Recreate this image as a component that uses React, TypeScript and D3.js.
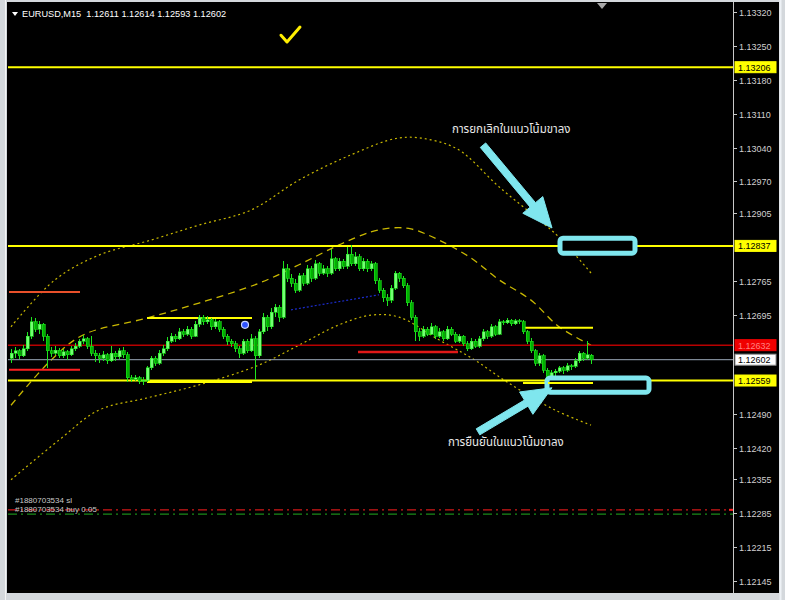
import React from 'react';
import * as d3 from 'd3';

// ---------- DATA ----------
const BASE = 1.12;
const PT = 1e-5;
const symbolHeader = 'EURUSD,M15  1.12611 1.12614 1.12593 1.12602';

// M15 candles: [open, high, low, close] in points above 1.12000
const candles: number[][] = [
  [605,625,596,615],[615,628,606,620],[620,624,603,610],[610,632,608,625],[625,660,620,650],
  [650,690,645,680],[680,688,660,665],[665,682,655,675],[675,678,640,650],[650,655,585,620],
  [620,628,608,615],[615,630,612,622],[622,626,605,610],[610,624,606,618],[618,622,602,612],
  [612,630,610,625],[625,636,620,630],[630,645,626,640],[640,652,635,645],[645,648,625,630],
  [630,650,610,615],[615,622,598,610],[610,615,595,605],[605,620,600,612],[612,616,594,600],
  [600,630,598,615],[615,620,600,608],[608,626,604,620],[620,628,606,612],[612,618,555,565],
  [565,570,556,562],[562,570,558,565],[565,568,552,558],[558,566,550,560],[560,590,555,585],
  [585,610,580,605],[605,610,590,595],[595,622,592,615],[615,632,610,625],[625,648,620,640],
  [640,658,636,650],[650,655,638,645],[645,668,642,660],[660,666,648,655],[655,672,650,665],
  [665,670,645,650],[650,682,648,675],[675,694,670,690],[690,695,674,680],[680,692,676,685],
  [685,688,664,670],[670,686,666,680],[680,684,660,665],[665,670,645,650],[650,655,632,640],
  [640,645,628,635],[635,640,618,625],[625,630,605,615],[615,645,612,640],[640,644,615,620],
  [620,655,618,645],[645,650,560,610],[610,665,605,660],[660,698,655,690],[690,694,662,670],
  [670,708,665,700],[700,716,690,710],[710,715,680,690],[690,805,686,790],[790,800,762,770],
  [770,778,752,760],[760,768,740,745],[745,782,742,775],[775,780,755,760],[760,798,756,790],
  [790,795,762,770],[770,808,766,800],[800,804,775,780],[780,798,776,790],[790,795,772,780],
  [780,830,776,810],[810,815,785,790],[790,812,786,805],[805,810,790,795],[795,835,790,820],
  [820,838,795,800],[800,825,796,815],[815,820,785,790],[790,812,786,805],[805,810,784,790],
  [790,806,785,800],[800,804,758,765],[765,770,740,745],[745,750,722,730],[730,738,712,725],
  [725,756,720,750],[750,786,746,780],[780,784,762,770],[770,775,750,755],[755,760,712,720],
  [720,725,684,690],[690,695,640,660],[660,668,640,650],[650,672,646,665],[665,670,650,655],
  [655,678,652,670],[670,674,645,650],[650,668,646,660],[660,664,640,645],[645,672,642,665],
  [665,670,650,655],[655,660,636,640],[640,656,636,650],[650,654,630,635],[635,640,620,625],
  [625,646,622,640],[640,645,626,630],[630,650,626,645],[645,665,640,660],[660,664,645,650],
  [650,676,646,670],[670,674,650,655],[655,686,652,680],[680,685,674,678],[678,688,675,683],
  [683,686,672,676],[676,686,673,682],[682,686,676,680],[680,684,655,660],[660,664,635,640],
  [640,646,615,620],[620,625,590,595],[595,615,590,610],[610,614,575,580],[580,585,550,560],
  [560,580,556,575],[575,582,568,578],[578,590,574,585],[585,588,572,580],[580,596,577,590],
  [590,594,580,588],[588,605,585,600],[600,620,596,615],[615,618,600,605],[605,640,602,612],
  [611,614,593,602],
];

// Bollinger bands: [candle index, points above 1.12000]
const upperBand = [[0,670],[11,767],[22,818],[35,849],[47,880],[60,911],[72,973],[85,1025],[97,1060],[105,1056],[112,1035],[122,959],[132,891],[137,855],[145,781]];
const middleBand = [[0,508],[10,601],[18,653],[34,688],[47,719],[62,760],[72,798],[82,839],[90,866],[95,874],[100,872],[107,849],[115,812],[122,767],[130,725],[137,670],[145,632]];
const lowerBand = [[0,354],[12,436],[22,498],[34,523],[47,550],[62,591],[72,632],[82,674],[90,694],[97,690],[107,643],[116,601],[124,556],[136,498],[145,467]];
const blueTrend = [[70,705],[92,736]];

// axis tick labels
const tickLabels = ['1.13320','1.13250','1.13180','1.13110','1.13040','1.12970','1.12905','1.12765','1.12695','1.12490','1.12420','1.12355','1.12285','1.12215','1.12145'];

// full-width horizontal levels
const levelNames = ['res1','res2','sup1','redLevel','bid'];
const levelPrices = [1.13206, 1.12837, 1.12559, 1.12632, 1.12602];

// short segments: [from index, to index, price]
const segmentNames = ['orangeL','redL','yelTopA','yelBotA','redMid','yelTopB','yelBotB'];
const segmentData = [[-0.5,17.25,1.12742],[-0.5,17.25,1.12581],[34,60.25,1.12688],[34,60.25,1.12556],[86.75,111.75,1.12618],[128,145.5,1.12668],[128,145.5,1.12554]];

// order lines
const slPrice = 1.12292;
const buyPrice = 1.12283;
const orderLabels = ['#1880703534 sl', '#1880703534 buy 0.05'];

// annotations (candle index, price)
const textTop = 'การยกเลิกในแนวโน้มขาลง';
const textBottom = 'การยืนยันในแนวโน้มขาลง';
const textTopPos = [110.25, 1.13070];
const textBottomPos = [109.25, 1.12424];
const arrowTop = [[118, 1.13045], [135.25, 1.12874]];
const arrowBottom = [[116.75, 1.12453], [135.25, 1.12544]];
const boxTop = [[137.25, 1.12853], [156, 1.12822]];
const boxBottom = [[134, 1.12564], [159.5, 1.12535]];
const checkMark = [[67.5, 1.13272], [69, 1.13258], [72.25, 1.13289]];
const blueMarker = [58.5, 1.12674];

// ---------- STYLES ----------
const W = 785, H = 600;
const PLOT_L = 8, PLOT_R = 733, AXIS_R = 779, TOP = 2, BOTTOM = 593;
const levelStyle: Record<string, { c: string; w: number }> = {
  res1: { c: '#ffff00', w: 2 }, res2: { c: '#ffff00', w: 2 }, sup1: { c: '#ffff00', w: 2 },
  redLevel: { c: '#b80000', w: 1.5 }, bid: { c: '#9aa8b8', w: 1 },
};
const segStyle: Record<string, { c: string; w: number }> = {
  orangeL: { c: '#e8502a', w: 2 }, redL: { c: '#ff2020', w: 2 }, yelTopA: { c: '#ffff00', w: 2 },
  yelBotA: { c: '#ffff00', w: 2 }, redMid: { c: '#e01818', w: 2.5 }, yelTopB: { c: '#ffff00', w: 2 },
  yelBotB: { c: '#ffff00', w: 2 },
};
const boxStyle: Record<string, { bg: string; fg: string; border: string }> = {
  res1: { bg: '#ffff00', fg: '#000', border: '#ffff00' },
  res2: { bg: '#ffff00', fg: '#000', border: '#ffff00' },
  sup1: { bg: '#ffff00', fg: '#000', border: '#ffff00' },
  redLevel: { bg: '#f00000', fg: '#ff8080', border: '#f00000' },
  bid: { bg: '#ffffff', fg: '#000', border: '#909090' },
};
const CYAN = '#7fe6ee';
const FONT = "'Liberation Sans', Arial, sans-serif";
const THAI = "'Noto Sans Thai', Tahoma, 'Loma', 'Garuda', 'DejaVu Sans', sans-serif";

function arrowPoly(x1: number, y1: number, x2: number, y2: number, sw = 7, hl = 30, hw = 26) {
  const dx = x2 - x1, dy = y2 - y1, len = Math.hypot(dx, dy);
  const ux = dx / len, uy = dy / len, px = -uy, py = ux;
  const bx = x2 - ux * hl, by = y2 - uy * hl;
  const pts = [
    [x1 + px * sw / 2, y1 + py * sw / 2],
    [bx + px * sw / 2, by + py * sw / 2],
    [bx + px * hw / 2, by + py * hw / 2],
    [x2, y2],
    [bx - px * hw / 2, by - py * hw / 2],
    [bx - px * sw / 2, by - py * sw / 2],
    [x1 - px * sw / 2, y1 - py * sw / 2],
  ];
  return pts.map((p) => p.join(',')).join(' ');
}

export default function App() {
  const y = d3.scaleLinear().domain([1.12145, 1.1332]).range([581, 12]);
  const x = d3.scaleLinear().domain([0, 145]).range([11, 591]);
  const p = (v: number) => y(BASE + v * PT);

  const bandLine = d3.line<number[]>().x((d) => x(d[0])).y((d) => p(d[1])).curve(d3.curveCatmullRom);

  const arrow = (a: number[][]) => arrowPoly(x(a[0][0]), y(a[0][1]), x(a[1][0]), y(a[1][1]));
  const box = (b: number[][]) => ({ x: x(b[0][0]), y: y(b[0][1]), w: x(b[1][0]) - x(b[0][0]), h: y(b[1][1]) - y(b[0][1]) });
  const bt = box(boxTop), bb = box(boxBottom);

  return (
    <div style={{ position: 'absolute', left: 0, top: 0, width: W, height: H }}>
      <svg width={W} height={H} style={{ display: 'block' }}>
        <rect x={0} y={0} width={W} height={H} fill="#d4d8dc" />
        <line x1={5.5} y1={0} x2={5.5} y2={H} stroke="#f4f4f4" />
        <rect x={7} y={TOP} width={AXIS_R - 7} height={BOTTOM - TOP} fill="#000" />
        <line x1={AXIS_R + 1.5} y1={0} x2={AXIS_R + 1.5} y2={H} stroke="#eef2f6" strokeWidth={2} />

        {/* bands */}
        <path d={bandLine(upperBand) || ''} fill="none" stroke="#c9b800" strokeWidth={1.2} strokeDasharray="2,3" />
        <path d={bandLine(middleBand) || ''} fill="none" stroke="#c9b800" strokeWidth={1.3} strokeDasharray="7,5" />
        <path d={bandLine(lowerBand) || ''} fill="none" stroke="#c9b800" strokeWidth={1.2} strokeDasharray="2,3" />
        <path d={bandLine(blueTrend) || ''} fill="none" stroke="#1c2ccc" strokeWidth={1.2} strokeDasharray="2,2" />

        {/* full-width levels */}
        {levelNames.map((k, i) => (
          <line key={k} x1={PLOT_L} x2={PLOT_R} y1={y(levelPrices[i])} y2={y(levelPrices[i])} stroke={levelStyle[k].c} strokeWidth={levelStyle[k].w} />
        ))}

        {/* order lines */}
        <line x1={PLOT_L} x2={PLOT_R} y1={y(slPrice)} y2={y(slPrice)} stroke="#d01818" strokeWidth={1.3} strokeDasharray="9,4,2,4" />
        <line x1={PLOT_L} x2={PLOT_R} y1={y(buyPrice)} y2={y(buyPrice)} stroke="#1a8a1a" strokeWidth={1.3} strokeDasharray="9,4,2,4" />
        <line x1={PLOT_R - 4} x2={PLOT_R} y1={y(slPrice)} y2={y(slPrice)} stroke="#ff2020" strokeWidth={2} />
        {orderLabels.map((t, i) => (
          <text key={t} x={15} y={i === 0 ? y(slPrice) - 7 : y(buyPrice) - 2} fill="#c8c8c8" fontSize={8} fontFamily={FONT}>{t}</text>
        ))}

        {/* short segments */}
        {segmentNames.map((k, i) => {
          const [a, b, pr] = segmentData[i];
          return <line key={k} x1={Math.max(PLOT_L, x(a))} x2={x(b)} y1={y(pr)} y2={y(pr)} stroke={segStyle[k].c} strokeWidth={segStyle[k].w} />;
        })}

        {/* candles */}
        <g shapeRendering="crispEdges">
          {candles.map((c, i) => {
            const [o, h, l, cl] = c;
            const cx = Math.round(x(i));
            const up = cl >= o;
            const top = Math.min(p(o), p(cl));
            const hgt = Math.max(1, Math.abs(p(o) - p(cl)));
            return (
              <g key={i}>
                <line x1={cx + 0.5} x2={cx + 0.5} y1={p(h)} y2={p(l)} stroke="#1ee61e" />
                <rect x={cx - 1} y={top} width={3} height={hgt} fill={up ? '#74ff74' : '#00b000'} stroke="#1ee61e" strokeWidth={0.6} />
              </g>
            );
          })}
        </g>

        {/* blue marker */}
        <circle cx={x(blueMarker[0])} cy={y(blueMarker[1])} r={3.5} fill="#2f52ff" stroke="#c8d4ff" strokeWidth={1.2} />

        {/* check mark */}
        <polyline
          points={checkMark.map((d) => `${x(d[0])},${y(d[1])}`).join(' ')}
          fill="none" stroke="#ffee00" strokeWidth={3} strokeLinecap="round" strokeLinejoin="round"
        />

        {/* axis */}
        <line x1={PLOT_R + 0.5} x2={PLOT_R + 0.5} y1={TOP} y2={BOTTOM} stroke="#c8c8c8" />
        {tickLabels.map((t) => {
          const ty = Math.round(y(+t)) + 0.5;
          return (
            <g key={t}>
              <line x1={PLOT_R} x2={PLOT_R + 4} y1={ty} y2={ty} stroke="#c8c8c8" />
              <text x={739} y={ty + 3.5} fill="#d0d0d0" fontSize={9} fontFamily={FONT}>{t}</text>
            </g>
          );
        })}
        {levelNames.map((k, i) => {
          const ly = y(levelPrices[i]);
          const s = boxStyle[k];
          return (
            <g key={'b' + k}>
              <rect x={735} y={ly - 5.5} width={41} height={11} fill={s.bg} stroke={s.border} strokeWidth={1} />
              <text x={738} y={ly + 3.5} fill={s.fg} fontSize={9} fontFamily={FONT}>{levelPrices[i].toFixed(5)}</text>
            </g>
          );
        })}

        {/* annotation boxes */}
        <rect x={bt.x} y={bt.y} width={bt.w} height={bt.h} rx={3} fill="#000" stroke={CYAN} strokeWidth={5} />
        <rect x={bb.x} y={bb.y} width={bb.w} height={bb.h} rx={3} fill="#000" stroke={CYAN} strokeWidth={5} />
        <line x1={x(segmentData[6][0]) + 25} x2={x(segmentData[6][1])} y1={y(segmentData[6][2])} y2={y(segmentData[6][2])} stroke="#ffff00" strokeWidth={2} />

        {/* arrows */}
        <polygon points={arrow(arrowTop)} fill={CYAN} stroke={CYAN} strokeWidth={1} strokeLinejoin="round" />
        <polygon points={arrow(arrowBottom)} fill={CYAN} stroke={CYAN} strokeWidth={1} strokeLinejoin="round" />

        {/* annotation texts */}
        <text x={x(textTopPos[0])} y={y(textTopPos[1])} fill="#e8e8e8" fontSize={11.5} fontFamily={THAI}>{textTop}</text>
        <text x={x(textBottomPos[0])} y={y(textBottomPos[1])} fill="#e8e8e8" fontSize={11.5} fontFamily={THAI}>{textBottom}</text>

        {/* header */}
        <path d="M12,12 L18,12 L15,16 Z" fill="#ffffff" />
        <text x={22} y={17} fill="#ffffff" fontSize={9.2} fontFamily={FONT} style={{ whiteSpace: 'pre' }}>{symbolHeader}</text>
        <path d="M597,3 L607,3 L602,9 Z" fill="#a8a8a8" />
      </svg>
    </div>
  );
}
